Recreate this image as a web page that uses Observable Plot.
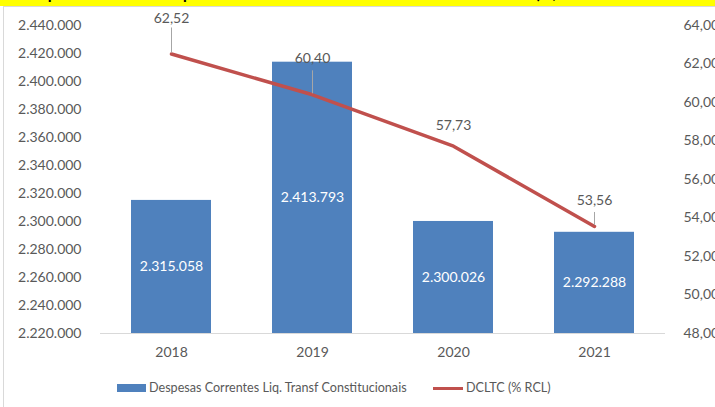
<!DOCTYPE html>
<html>
<head>
<meta charset="utf-8">
<script src="https://cdn.jsdelivr.net/npm/d3@7"></script>
<script src="https://cdn.jsdelivr.net/npm/@observablehq/plot@0.6"></script>
<style>
  html, body { margin: 0; padding: 0; background: #fff; }
  #wrap { position: relative; width: 715px; height: 407px; overflow: hidden; font-family: Lato, "Open Sans", sans-serif; }
  #title { position: absolute; left: 0; top: 0; width: 715px; height: 6px; background: #ffff00; overflow: hidden; }
  #title span { position: absolute; left: 20px; top: -17px; font-size: 16px; font-weight: bold; color: #000; white-space: nowrap; }
  #frame { position: absolute; left: 3px; top: 6px; width: 720px; height: 410px; border: 1px solid #d9d9d9; box-sizing: border-box; }
  #chart { position: absolute; left: 0; top: 0; }
  #legend { position: absolute; top: 380px; left: 0; width: 715px; font-size: 12.6px; color: #595959; }
  .sw { position: absolute; }
  .lt { position: absolute; top: 0; white-space: nowrap; }
</style>
</head>
<body>
<div id="wrap">
  <div id="title"><span>Despesas Correntes Líquidas de Transferências Constitucionais e DCLTC (R$ milhões correntes e % da RCL)</span></div>
  <div id="frame"></div>
  <div id="chart"></div>
  <div id="legend">
    <div class="sw" style="left:117px; top:4px; width:29px; height:8px; background:#4f81bd;"></div>
    <div class="lt" style="left:149px;">Despesas Correntes Liq. Transf Constitucionais</div>
    <div class="sw" style="left:433px; top:7px; width:30px; height:3px; background:#c0504d;"></div>
    <div class="lt" style="left:466px;">DCLTC (% RCL)</div>
  </div>
</div>
<script>
const years = ["2018", "2019", "2020", "2021"];
const despesas = [2315058, 2413793, 2300026, 2292288];
const dcltc = [62.52, 60.40, 57.73, 53.56];
const leftTicks = [2220000, 2240000, 2260000, 2280000, 2300000, 2320000, 2340000, 2360000, 2380000, 2400000, 2420000, 2440000];
const rightTicks = [48, 50, 52, 54, 56, 58, 60, 62, 64];

// layout config (not data)
const yMin = 2220000, yMax = 2440000, rMin = 48, rMax = 64;
const marginTop = 25, height = 370, marginBottom = 37;
const pxPerUnit = (yMax - yMin) / (height - marginTop - marginBottom);
const labelUpPx = [35, 36, 21, 26];
const leaderPx = [[1, 26], [1, 24], null, [1, 14]];

const toLeft = v => yMin + (v - rMin) / (rMax - rMin) * (yMax - yMin);
const fromLeft = y => rMin + (y - yMin) / (yMax - yMin) * (rMax - rMin);
const fmtInt = d => d3.format(",")(d).replace(/,/g, ".");
const fmtDec = d => d.toFixed(2).replace(".", ",");

const bars = years.map((y, i) => ({year: y, value: despesas[i]}));
const pts = years.map((y, i) => ({year: y, v: dcltc[i], yv: toLeft(dcltc[i]), ly: toLeft(dcltc[i]) + labelUpPx[i] * pxPerUnit}));
const leaders = [];
pts.forEach((p, i) => {
  const l = leaderPx[i];
  if (l) leaders.push({year: p.year, y1: p.yv + l[0] * pxPerUnit, y2: p.yv + l[1] * pxPerUnit});
});

const grey = "#595959";
const chart = Plot.plot({
  width: 715,
  height,
  marginTop,
  marginBottom,
  marginLeft: 100,
  marginRight: 50,
  style: {fontFamily: "Lato, 'Open Sans', sans-serif", fontSize: "14px", color: grey, background: "transparent", overflow: "visible"},
  x: {domain: years, paddingInner: 0.43, paddingOuter: 0.215, label: null},
  y: {domain: [yMin, yMax], label: null},
  marks: [
    Plot.barY(bars, {x: "year", y1: yMin, y2: "value", fill: "#4f81bd"}),
    Plot.ruleY([yMin], {stroke: "#d9d9d9", strokeWidth: 1}),
    Plot.axisY({ticks: leftTicks, tickFormat: fmtInt, tickSize: 0, tickPadding: 19, label: null, fontSize: 14, fill: grey}),
    Plot.axisY({anchor: "right", ticks: rightTicks.map(toLeft), tickFormat: d => fmtDec(fromLeft(d)), tickSize: 0, tickPadding: 18, label: null, fontSize: 14, fill: grey}),
    Plot.axisX({tickSize: 0, tickPadding: 14, label: null, fontSize: 14, fill: grey}),
    Plot.text(bars, {x: "year", y: d => (d.value + yMin) / 2, text: d => fmtInt(d.value), fill: "white", fontSize: 14}),
    Plot.line(pts, {x: "year", y: "yv", stroke: "#c0504d", strokeWidth: 3.5, curve: "linear"}),
    Plot.ruleX(leaders, {x: "year", y1: "y1", y2: "y2", stroke: "#a6a6a6", strokeWidth: 1}),
    Plot.text(pts, {x: "year", y: "ly", text: d => fmtDec(d.v), fill: grey, fontSize: 14})
  ]
});
document.getElementById("chart").appendChild(chart);
</script>
</body>
</html>
